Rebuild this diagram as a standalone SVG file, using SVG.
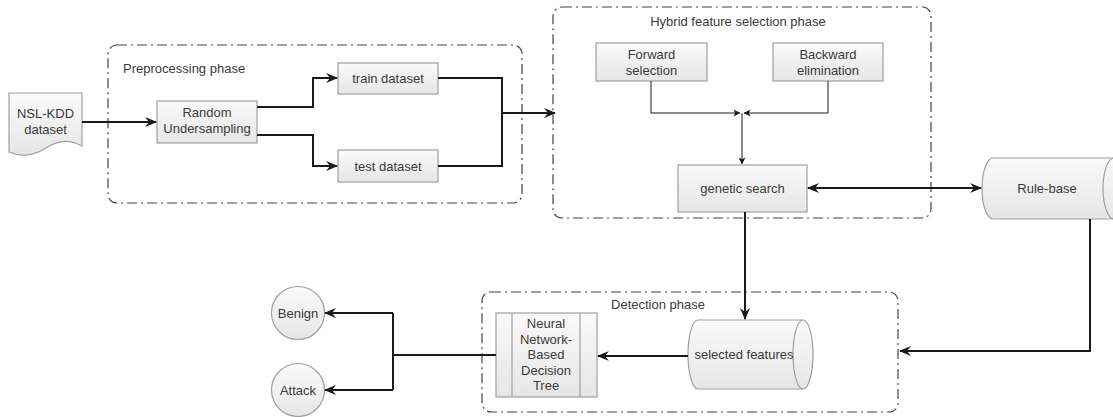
<svg xmlns="http://www.w3.org/2000/svg" width="1113" height="417" viewBox="0 0 1113 417">
<defs>
<linearGradient id="g" x1="0" y1="0" x2="0" y2="1">
<stop offset="0" stop-color="#fafafa"/>
<stop offset="1" stop-color="#e6e6e6"/>
</linearGradient>
<marker id="a" viewBox="0 0 12 10" refX="11" refY="5" markerWidth="12" markerHeight="10" markerUnits="userSpaceOnUse" orient="auto-start-reverse">
<path d="M0,0 L12,5 L0,10 L4,5 Z" fill="#1a1a1a"/>
</marker>
<marker id="s" viewBox="0 0 8 8" refX="7.5" refY="4" markerWidth="7" markerHeight="7" markerUnits="userSpaceOnUse" orient="auto">
<path d="M0,0 L8,4 L0,8 L2,4 Z" fill="#1a1a1a"/>
</marker>
<style>
.phase{fill:none;stroke:#444;stroke-width:1.2;stroke-dasharray:10 4 2 4}
.box{fill:url(#g);stroke:#a0a0a0;stroke-width:1.2}
.t{font-family:"Liberation Sans",Arial,sans-serif;font-size:13px;fill:#3a3a3a;text-anchor:middle}
.pl{font-family:"Liberation Sans",Arial,sans-serif;font-size:13px;fill:#3a3a3a}
.c{fill:none;stroke:#1a1a1a;stroke-width:2}
.ct{fill:none;stroke:#1a1a1a;stroke-width:1}
</style>
</defs>

<g id="preprocessing-phase">
<rect class="phase" x="108" y="45" width="414" height="158" rx="9"/>
<text class="pl" x="123" y="73">Preprocessing phase</text>
</g>
<g id="hybrid-phase">
<rect class="phase" x="553" y="7" width="378" height="211" rx="9"/>
<text class="t" x="738" y="26">Hybrid feature selection phase</text>
</g>
<g id="detection-phase">
<rect class="phase" x="482" y="292" width="416" height="120" rx="9"/>
<text class="t" x="658" y="309">Detection phase</text>
</g>

<g id="nsl-kdd">
<path class="box" d="M9,93 H82 V146 C70,139 58,140 46,148 C34,156 20,157 9,152 Z"/>
<text class="t" x="45.5" y="118">NSL-KDD</text>
<text class="t" x="45.5" y="134">dataset</text>
</g>
<g id="random-undersampling">
<rect class="box" x="157" y="101" width="100" height="42"/>
<text class="t" x="207" y="117">Random</text>
<text class="t" x="207" y="133">Undersampling</text>
</g>
<g id="train-dataset">
<rect class="box" x="338" y="63" width="100" height="31"/>
<text class="t" x="388" y="83">train dataset</text>
</g>
<g id="test-dataset">
<rect class="box" x="338" y="150" width="100" height="32"/>
<text class="t" x="388" y="170.5">test dataset</text>
</g>
<g id="forward-selection">
<rect class="box" x="596" y="43" width="111" height="38"/>
<text class="t" x="651.5" y="59">Forward</text>
<text class="t" x="651.5" y="75">selection</text>
</g>
<g id="backward-elimination">
<rect class="box" x="773" y="43" width="110" height="38"/>
<text class="t" x="828" y="59">Backward</text>
<text class="t" x="828" y="75">elimination</text>
</g>
<g id="genetic-search">
<rect class="box" x="678" y="165" width="129" height="47"/>
<text class="t" x="742.5" y="193">genetic search</text>
</g>
<g id="rule-base">
<path class="box" d="M993,158 H1114 A11,30.5 0 0 1 1114,219 H993 A11,30.5 0 0 1 993,158 Z"/>
<path class="box" d="M1114,158 A11,30.5 0 0 0 1114,219" fill="none"/>
<text class="t" x="1047" y="193">Rule-base</text>
</g>
<g id="selected-features">
<path class="box" d="M698,320 H803 A10,34.5 0 0 1 803,389 H698 A10,34.5 0 0 1 698,320 Z"/>
<path class="box" d="M803,320 A10,34.5 0 0 0 803,389" fill="none"/>
<text class="t" x="744" y="359">selected features</text>
</g>
<g id="nn-decision-tree">
<rect class="box" x="496" y="313" width="101" height="84"/>
<line x1="512" y1="313" x2="512" y2="397" stroke="#a0a0a0" stroke-width="1.2"/>
<line x1="580" y1="313" x2="580" y2="397" stroke="#a0a0a0" stroke-width="1.2"/>
<text class="t" x="546" y="328">Neural</text>
<text class="t" x="546" y="343.5">Network-</text>
<text class="t" x="546" y="359">Based</text>
<text class="t" x="546" y="374.5">Decision</text>
<text class="t" x="546" y="390">Tree</text>
</g>
<g id="benign">
<circle class="box" cx="298" cy="313" r="26.5"/>
<text class="t" x="298" y="317.5">Benign</text>
</g>
<g id="attack">
<circle class="box" cx="298" cy="390" r="26.5"/>
<text class="t" x="298" y="394.5">Attack</text>
</g>

<g id="connectors">
<path class="c" d="M82,122 H156" marker-end="url(#a)"/>
<path class="c" d="M257,107 H313 V78 H337" marker-end="url(#a)"/>
<path class="c" d="M257,135 H313 V166 H337" marker-end="url(#a)"/>
<path class="c" d="M438,78 H502 V166 H438"/>
<path class="c" d="M502,113 H555" marker-end="url(#a)"/>
<path class="ct" d="M651,81 V113 H740" marker-end="url(#s)"/>
<path class="ct" d="M828,81 V113 H744" marker-end="url(#s)"/>
<path class="ct" d="M742,113 V164" marker-end="url(#s)"/>
<path class="c" d="M808,188 H981" marker-start="url(#a)" marker-end="url(#a)"/>
<path class="c" d="M745,212 V319" marker-end="url(#a)"/>
<path class="c" d="M1090,219 V351 H900" marker-end="url(#a)"/>
<path class="c" d="M688,356 H598" marker-end="url(#a)"/>
<path class="c" d="M496,355 H393"/>
<path class="c" d="M393,313 V390"/>
<path class="c" d="M393,313 H325" marker-end="url(#a)"/>
<path class="c" d="M393,390 H325" marker-end="url(#a)"/>
</g>
</svg>
